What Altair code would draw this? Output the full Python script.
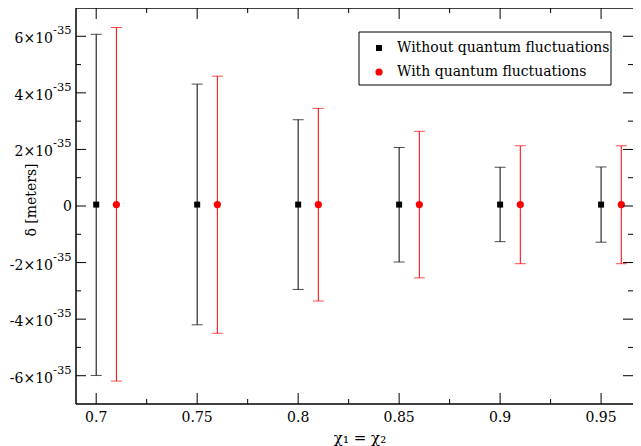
import altair as alt
import pandas as pd

# ---- data ----
series_names = ["Without quantum fluctuations", "With quantum fluctuations"]
series_colors = ["#000000", "#ff0000"]
series_shapes = ["square", "circle"]
series_sizes = [36, 52]

chi_without = [0.70, 0.75, 0.80, 0.85, 0.90, 0.95]
delta_without = [0.05e-35, 0.05e-35, 0.05e-35, 0.05e-35, 0.05e-35, 0.05e-35]
upper_without = [6.07e-35, 4.31e-35, 3.05e-35, 2.07e-35, 1.37e-35, 1.38e-35]
lower_without = [-5.99e-35, -4.20e-35, -2.95e-35, -1.98e-35, -1.26e-35, -1.28e-35]

chi_with = [0.71, 0.76, 0.81, 0.86, 0.91, 0.96]
delta_with = [0.05e-35, 0.05e-35, 0.05e-35, 0.05e-35, 0.05e-35, 0.05e-35]
upper_with = [6.31e-35, 4.59e-35, 3.45e-35, 2.64e-35, 2.13e-35, 2.13e-35]
lower_with = [-6.19e-35, -4.50e-35, -3.36e-35, -2.54e-35, -2.04e-35, -2.04e-35]

x_major = [0.70, 0.75, 0.80, 0.85, 0.90, 0.95]
x_labels = ["0.7", "0.75", "0.8", "0.85", "0.9", "0.95"]
x_minor = [0.725, 0.775, 0.825, 0.875, 0.925]
y_major = [-6e-35, -4e-35, -2e-35, 0.0, 2e-35, 4e-35, 6e-35]
y_minor = [-5e-35, -3e-35, -1e-35, 1e-35, 3e-35, 5e-35]
y_mantissa = ["-6×10", "-4×10", "-2×10", "0", "2×10", "4×10", "6×10"]
y_exponent = ["-35", "-35", "-35", "", "-35", "-35", "-35"]

x_title = "χ₁ = χ₂"
y_title = "δ [meters]"

W, H = 557, 396
FONT = "DejaVu Serif"

df = pd.DataFrame({
    "x": chi_without + chi_with,
    "y": delta_without + delta_with,
    "lo": lower_without + lower_with,
    "hi": upper_without + upper_with,
    "series": [series_names[0]] * len(chi_without) + [series_names[1]] * len(chi_with),
})
xm = pd.DataFrame({"x": x_major, "t": x_labels})
xn = pd.DataFrame({"x": x_minor})
ym = pd.DataFrame({"y": y_major, "m": y_mantissa, "e": y_exponent})
yn = pd.DataFrame({"y": y_minor})
one = pd.DataFrame({"a": [0]})

xs = alt.Scale(domain=[0.69, 0.9658], nice=False, zero=False)
ys = alt.Scale(domain=[-7e-35, 7e-35], nice=False, zero=False)
cs = alt.Scale(domain=series_names, range=series_colors)
ss = alt.Scale(domain=series_names, range=series_shapes)
zs = alt.Scale(domain=series_names, range=series_sizes)

Xn = alt.X("x:Q", scale=xs, axis=None)
Yn = alt.Y("y:Q", scale=ys, axis=None)

base = alt.Chart(df)

bars = base.mark_rule(strokeWidth=1).encode(
    x=Xn, y=alt.Y("lo:Q", scale=ys, axis=None), y2="hi:Q",
    color=alt.Color("series:N", scale=cs, legend=None))
cap_hi = base.mark_tick(orient="horizontal", size=11, thickness=1).encode(
    x=Xn, y=alt.Y("hi:Q", scale=ys, axis=None),
    color=alt.Color("series:N", scale=cs, legend=None))
cap_lo = base.mark_tick(orient="horizontal", size=11, thickness=1).encode(
    x=Xn, y=alt.Y("lo:Q", scale=ys, axis=None),
    color=alt.Color("series:N", scale=cs, legend=None))
points = base.mark_point(filled=True, opacity=1, strokeWidth=0).encode(
    x=Xn, y=Yn,
    color=alt.Color("series:N", scale=cs, legend=None),
    shape=alt.Shape("series:N", scale=ss, legend=None),
    size=alt.Size("series:N", scale=zs, legend=None),
)

# frame (left, top, bottom; the right edge lies beyond the window in the reference)
frame_style = dict(color="black", strokeWidth=1.5)
f_left = alt.Chart(one).mark_rule(**frame_style).encode(x=alt.value(0), y=alt.value(0), y2=alt.value(H))
f_top = alt.Chart(one).mark_rule(**frame_style).encode(y=alt.value(0), x=alt.value(0), x2=alt.value(W))
f_bot = alt.Chart(one).mark_rule(**frame_style).encode(y=alt.value(H), x=alt.value(0), x2=alt.value(W))

tick_style = dict(color="black", strokeWidth=1)
ly_major = alt.Chart(ym).mark_rule(**tick_style).encode(y=Yn, x=alt.value(0), x2=alt.value(10))
ly_minor = alt.Chart(yn).mark_rule(**tick_style).encode(y=Yn, x=alt.value(0), x2=alt.value(5))
ry_major = alt.Chart(ym).mark_rule(**tick_style).encode(y=Yn, x=alt.value(W - 10), x2=alt.value(W))
ry_minor = alt.Chart(yn).mark_rule(**tick_style).encode(y=Yn, x=alt.value(W - 5), x2=alt.value(W))
bx_major = alt.Chart(xm).mark_rule(**tick_style).encode(x=Xn, y=alt.value(H - 11), y2=alt.value(H))
bx_minor = alt.Chart(xn).mark_rule(**tick_style).encode(x=Xn, y=alt.value(H - 5), y2=alt.value(H))
tx_major = alt.Chart(xm).mark_rule(**tick_style).encode(x=Xn, y=alt.value(0), y2=alt.value(11))
tx_minor = alt.Chart(xn).mark_rule(**tick_style).encode(x=Xn, y=alt.value(0), y2=alt.value(5))

# tick labels
txt = dict(font=FONT, color="black")
lab_x = alt.Chart(xm).mark_text(align="center", baseline="middle", fontSize=14, **txt).encode(
    x=Xn, y=alt.value(H + 14), text="t:N")
lab_m = alt.Chart(ym).transform_filter("datum.e != ''").mark_text(
    align="right", baseline="middle", fontSize=14, dy=3, **txt
).encode(y=Yn, x=alt.value(-23), text="m:N")
lab_e = alt.Chart(ym).transform_filter("datum.e != ''").mark_text(
    align="left", baseline="middle", fontSize=11.5, dy=-5, **txt
).encode(y=Yn, x=alt.value(-23), text="e:N")
lab_0 = alt.Chart(ym).transform_filter("datum.e == ''").mark_text(
    align="right", baseline="middle", fontSize=14, dy=1, **txt
).encode(y=Yn, x=alt.value(-4), text="m:N")

# axis titles
t_x = alt.Chart(one).mark_text(align="center", baseline="middle", fontSize=15, text=x_title, **txt).encode(
    x=alt.value(284), y=alt.value(430))
t_y = alt.Chart(one).mark_text(align="center", baseline="middle", fontSize=14, angle=270, text=y_title, **txt).encode(
    x=alt.value(-44), y=alt.value(192))

# legend (boxed, upper right)
LX, LY = 283, 24
leg_box = alt.Chart(one).mark_rect(fill="white", stroke="black", strokeWidth=1).encode(
    x=alt.value(LX), x2=alt.value(LX + 252), y=alt.value(LY), y2=alt.value(LY + 53))
legend_layers = []
for i, name in enumerate(series_names):
    sdf = pd.DataFrame({"series": [name]})
    legend_layers.append(alt.Chart(sdf).mark_point(filled=True, opacity=1, strokeWidth=0).encode(
        x=alt.value(LX + 20), y=alt.value(LY + 16 + 24 * i),
        color=alt.Color("series:N", scale=cs, legend=None),
        shape=alt.Shape("series:N", scale=ss, legend=None),
        size=alt.Size("series:N", scale=zs, legend=None)))
    legend_layers.append(alt.Chart(sdf).mark_text(align="left", baseline="middle", fontSize=14, **txt).encode(
        x=alt.value(LX + 38), y=alt.value(LY + 16 + 24 * i), text="series:N"))

chart = alt.layer(
    bars, cap_hi, cap_lo, points,
    ly_major, ly_minor, ry_major, ry_minor, bx_major, bx_minor, tx_major, tx_minor,
    f_left, f_top, f_bot,
    lab_x, lab_m, lab_e, lab_0, t_x, t_y,
    leg_box, *legend_layers,
).properties(
    width=W, height=H,
    background="white",
    autosize=alt.AutoSizeParams(type="none"),
    padding={"left": 68, "top": 0, "right": 0, "bottom": 42},
).configure_view(stroke=None)

chart.save("out.html", embed_options={"renderer": "svg", "actions": False})
